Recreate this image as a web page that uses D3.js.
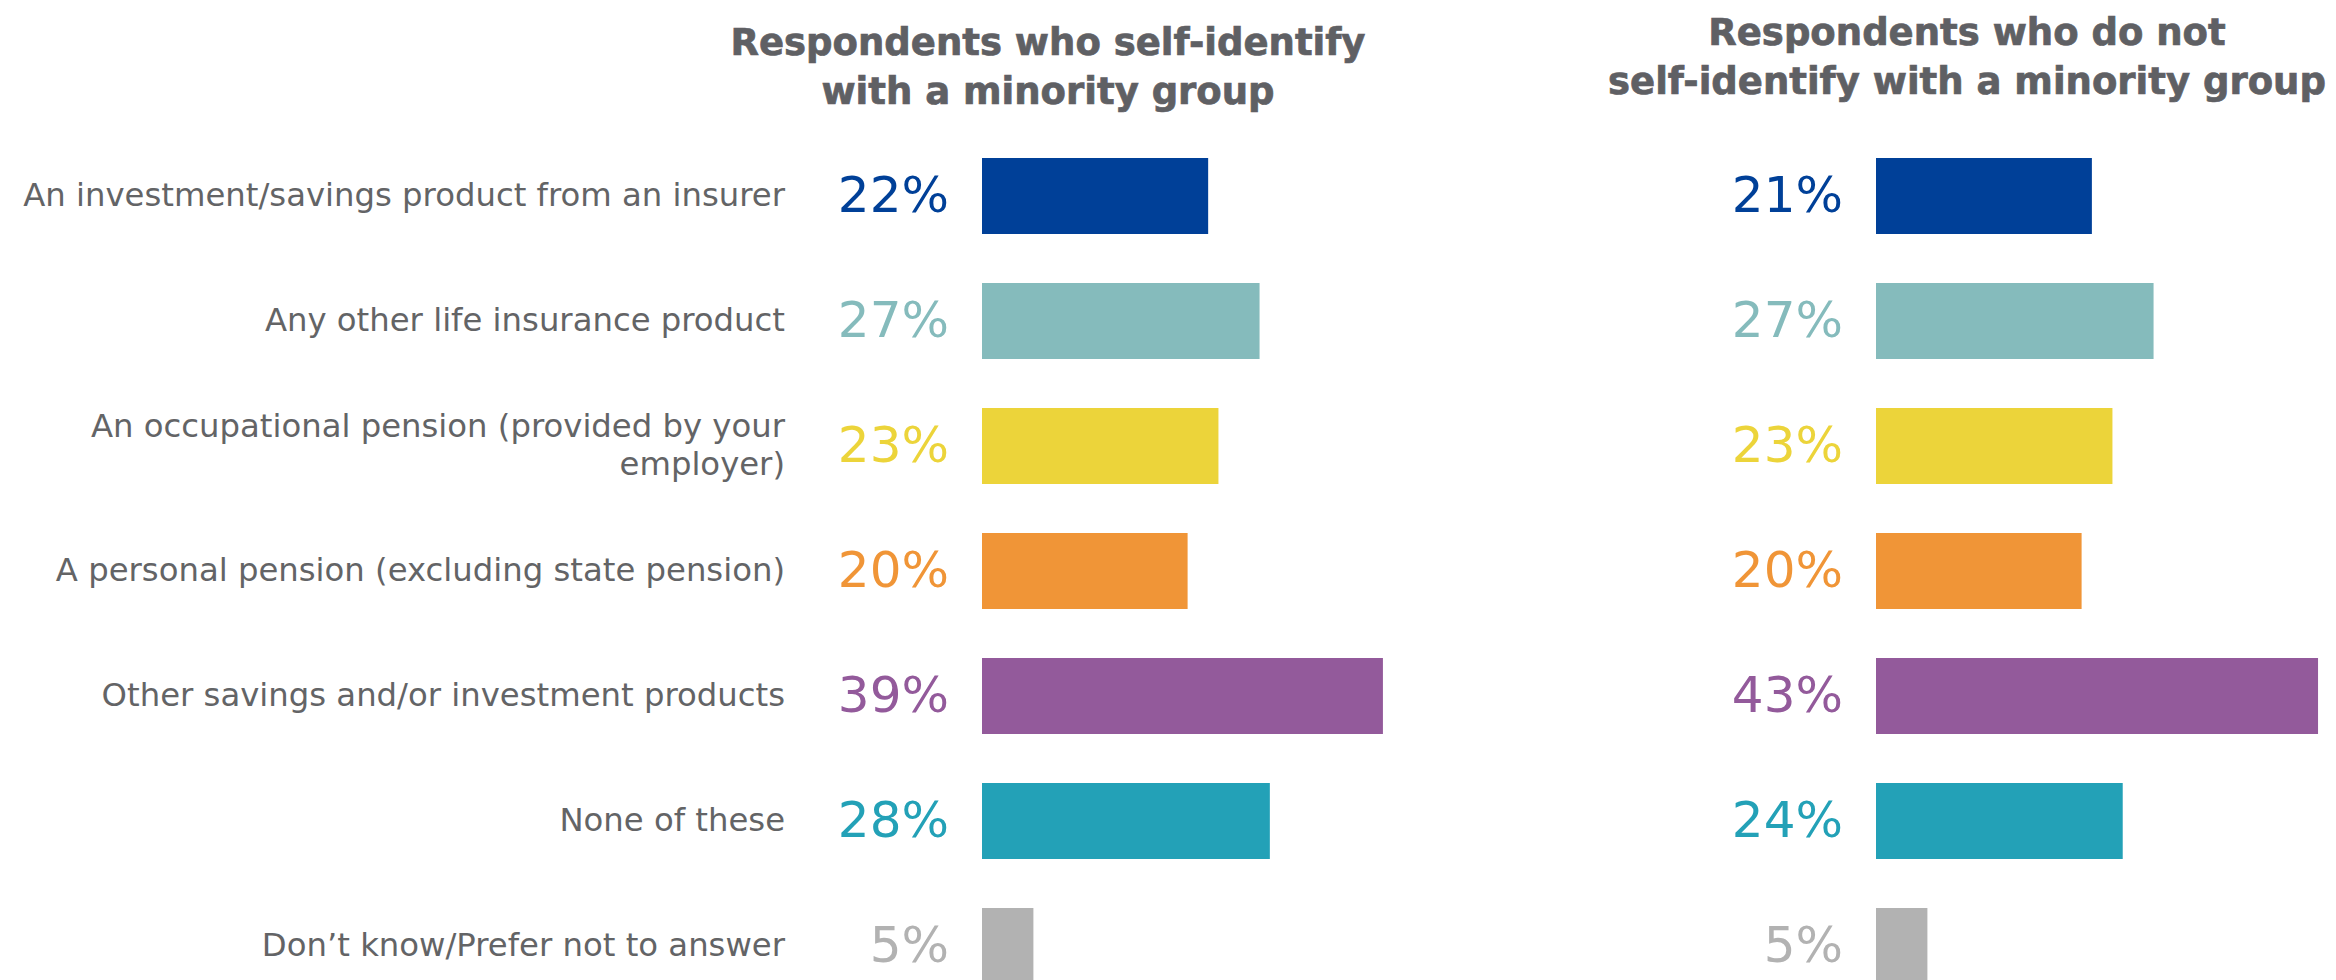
<!DOCTYPE html>
<html>
<head>
<meta charset="utf-8">
<script src="https://cdn.jsdelivr.net/npm/d3@7"></script>
<style>
  html, body { margin: 0; padding: 0; background: #ffffff; }
  svg { display: block; }
</style>
</head>
<body>
<svg id="chart" width="2336" height="980"></svg>
<script>
// Products held, split by whether respondents self-identify with a minority group
const categories = [
  ["An investment/savings product from an insurer"],
  ["Any other life insurance product"],
  ["An occupational pension (provided by your", "employer)"],
  ["A personal pension (excluding state pension)"],
  ["Other savings and/or investment products"],
  ["None of these"],
  ["Don\u2019t know/Prefer not to answer"]
];
const minorityValues = [22, 27, 23, 20, 39, 28, 5];
const nonMinorityValues = [21, 27, 23, 20, 43, 24, 5];
const panelTitles = [
  ["Respondents who self-identify", "with a minority group"],
  ["Respondents who do not", "self-identify with a minority group"]
];

// Styling
const barColors = ["#004098", "#85bbbc", "#ecd43a", "#f09537", "#935a9b", "#23a1b7", "#b2b2b2"];
const labelColor = "#636466";
const titleColor = "#5f6064";
const fontFamily = "'DejaVu Sans', Verdana, sans-serif";

const svg = d3.select("#chart");

const idx = d3.range(categories.length);
const y = d3.scaleBand()
  .domain(idx)
  .range([133.5, 133.5 + 875])
  .paddingInner(0.392)
  .paddingOuter(0.196);

const x = d3.scaleLinear().domain([0, 100]).range([0, 1028]);

const panels = [
  { values: minorityValues, x0: 982, title: panelTitles[0], titleX: 1048, titleY: 55 },
  { values: nonMinorityValues, x0: 1876, title: panelTitles[1], titleX: 1967, titleY: 45 }
];

// Category labels on the left
const catG = svg.append("g").attr("class", "categories");
idx.forEach(i => {
  const lines = categories[i];
  const cy = y(i) + y.bandwidth() / 2;
  const lh = 38.5;
  const t = catG.append("text")
    .attr("text-anchor", "end")
    .attr("font-family", fontFamily)
    .attr("font-size", 32.3)
    .attr("fill", labelColor);
  lines.forEach((ln, j) => {
    t.append("tspan")
      .attr("x", 785)
      .attr("y", cy + 10 + (j - (lines.length - 1) / 2) * lh)
      .text(ln);
  });
});

panels.forEach(p => {
  const g = svg.append("g").attr("class", "panel");

  // Title
  const tt = g.append("text")
    .attr("text-anchor", "middle")
    .attr("font-family", fontFamily)
    .attr("font-weight", "bold")
    .attr("font-size", 37)
    .attr("fill", titleColor)
    .attr("stroke", titleColor)
    .attr("stroke-width", 0.7);
  p.title.forEach((ln, j) => {
    tt.append("tspan").attr("x", p.titleX).attr("y", p.titleY + j * 48.5).text(ln);
  });

  // Bars
  g.selectAll("rect")
    .data(p.values)
    .join("rect")
    .attr("x", p.x0)
    .attr("y", (d, i) => y(i))
    .attr("width", d => x(d))
    .attr("height", y.bandwidth())
    .attr("fill", (d, i) => barColors[i]);

  // Value labels
  g.selectAll("text.value")
    .data(p.values)
    .join("text")
    .attr("class", "value")
    .attr("x", p.x0 - 33)
    .attr("y", (d, i) => y(i) + y.bandwidth() / 2 + 16)
    .attr("text-anchor", "end")
    .attr("font-family", fontFamily)
    .attr("font-size", 50)
    .attr("fill", (d, i) => barColors[i])
    .text(d => d + "%");
});
</script>
</body>
</html>
